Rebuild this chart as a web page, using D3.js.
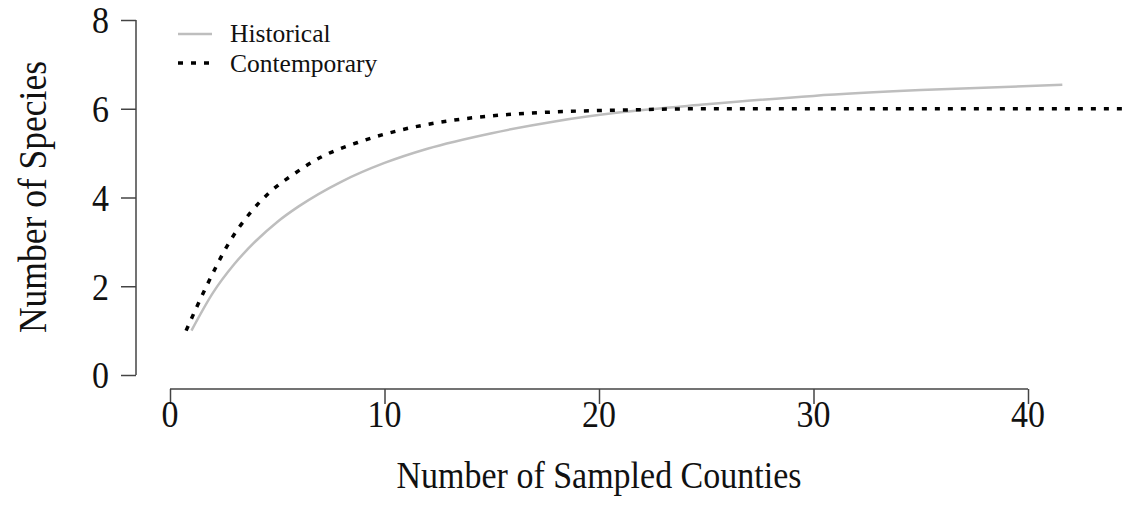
<!DOCTYPE html>
<html>
<head>
<meta charset="utf-8">
<script src="https://cdn.jsdelivr.net/npm/d3@7"></script>
<style>
html,body{margin:0;padding:0;background:#fff;}
svg{display:block;}
text{font-family:"Liberation Serif","Times New Roman",serif;fill:#111;}
</style>
</head>
<body>
<svg id="chart" width="1125" height="519"></svg>
<script>
// ---- data ----
const historicalX = [1, 2, 3, 4, 5, 6, 8, 10, 12, 15, 18, 21, 25, 30, 35, 41.6];
const historicalY = [1.0, 1.85, 2.5, 3.02, 3.45, 3.8, 4.36, 4.78, 5.1, 5.45, 5.72, 5.92, 6.1, 6.29, 6.42, 6.54];
const contemporaryX = [0.75, 1.75, 2.75, 3.75, 4.75, 5.75, 7, 8.75, 10.75, 12.9, 15, 18, 21, 25, 30, 40, 46];
const contemporaryY = [1.0, 2.05, 2.98, 3.66, 4.16, 4.52, 4.9, 5.24, 5.52, 5.72, 5.84, 5.93, 5.97, 6.0, 6.0, 6.0, 6.0];
const xTicks = [0, 10, 20, 30, 40];
const yTicks = [0, 2, 4, 6, 8];
const seriesNames = ["Historical", "Contemporary"];
const xTitle = "Number of Sampled Counties";
const yTitle = "Number of Species";

// ---- layout ----
const SY = 1.12; // vertical stretch of glyphs seen in reference
const svg = d3.select("#chart");
const x = d3.scaleLinear().domain([0, 40]).range([170, 1028]);
const y = d3.scaleLinear().domain([0, 8]).range([375, 20]);
const axisColor = "#444";

svg.append("defs").append("clipPath").attr("id", "plotclip")
  .append("rect").attr("x", 140).attr("y", 0).attr("width", 985).attr("height", 385);

// y axis
const yAxis = svg.append("g").attr("transform", "translate(136,0)")
  .call(d3.axisLeft(y).tickValues(yTicks).tickSize(15).tickFormat(""));
yAxis.select(".domain").remove();
yAxis.selectAll(".tick line").attr("stroke", axisColor).attr("stroke-width", 1.5);
svg.append("line").attr("x1", 136).attr("x2", 136).attr("y1", y(8)).attr("y2", y(0))
  .attr("stroke", axisColor).attr("stroke-width", 1.5);
svg.append("g").selectAll("text").data(yTicks).join("text")
  .attr("transform", d => `translate(109,${y(d)}) scale(1,${SY})`)
  .attr("text-anchor", "end").attr("dy", "0.35em")
  .style("font-size", "34px").text(d => d3.format("d")(d));

// x axis
const xAxis = svg.append("g").attr("transform", "translate(0,389)")
  .call(d3.axisBottom(x).tickValues(xTicks).tickSize(15).tickFormat(""));
xAxis.select(".domain").remove();
xAxis.selectAll(".tick line").attr("stroke", axisColor).attr("stroke-width", 1.5);
svg.append("line").attr("x1", x(0)).attr("x2", x(40)).attr("y1", 389).attr("y2", 389)
  .attr("stroke", axisColor).attr("stroke-width", 1.5);
svg.append("g").selectAll("text").data(xTicks).join("text")
  .attr("transform", d => `translate(${x(d)},414) scale(1,${SY})`)
  .attr("text-anchor", "middle").attr("dy", "0.35em")
  .style("font-size", "34px").text(d => d3.format("d")(d));

// titles
svg.append("text").attr("transform", `translate(599,475) scale(1,${SY})`).attr("text-anchor", "middle")
  .attr("dy", "0.35em").style("font-size", "34px").text(xTitle);
svg.append("text").attr("transform", `translate(32,197) rotate(-90) scale(1,${SY})`).attr("text-anchor", "middle")
  .attr("dy", "0.35em").style("font-size", "35.5px").text(yTitle);

// lines
const line = d3.line().x(d => x(d[0])).y(d => y(d[1])).curve(d3.curveMonotoneX);
const hist = historicalX.map((v, i) => [v, historicalY[i]]);
const cont = contemporaryX.map((v, i) => [v, contemporaryY[i]]);

const g = svg.append("g").attr("clip-path", "url(#plotclip)");
g.append("path").datum(hist).attr("d", line).attr("fill", "none")
  .attr("stroke", "#bebebe").attr("stroke-width", 2.5);
g.append("path").datum(cont).attr("d", line).attr("fill", "none")
  .attr("stroke", "#000").attr("stroke-width", 3.5).attr("stroke-dasharray", "5,8");

// legend
const legend = svg.append("g");
legend.append("line").attr("x1", 178).attr("x2", 212).attr("y1", 34).attr("y2", 34)
  .attr("stroke", "#bebebe").attr("stroke-width", 2.5);
legend.append("line").attr("x1", 178).attr("x2", 214).attr("y1", 63).attr("y2", 63)
  .attr("stroke", "#000").attr("stroke-width", 3.5).attr("stroke-dasharray", "5,8");
legend.append("text").attr("x", 230).attr("y", 33).attr("dy", "0.35em")
  .style("font-size", "25.5px").text(seriesNames[0]);
legend.append("text").attr("x", 230).attr("y", 63).attr("dy", "0.35em")
  .style("font-size", "25.5px").text(seriesNames[1]);
</script>
</body>
</html>
